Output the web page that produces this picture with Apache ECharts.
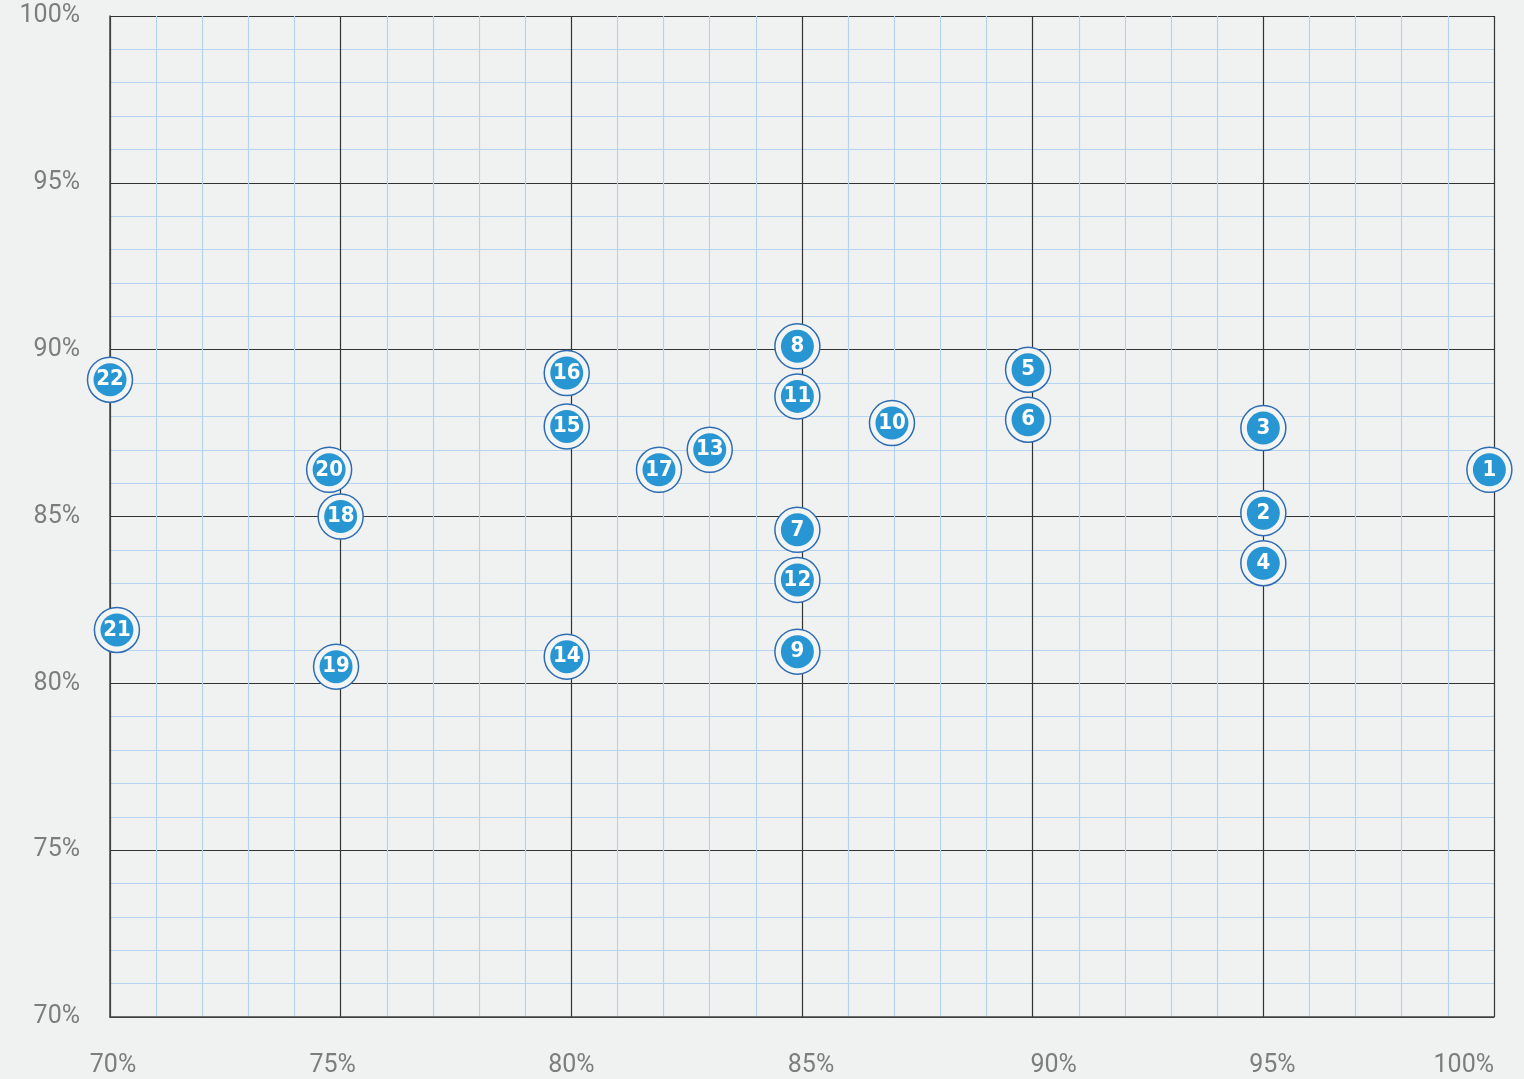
<!DOCTYPE html>
<html>
<head>
<meta charset="utf-8">
<script src="https://cdn.jsdelivr.net/npm/echarts@6/dist/echarts.min.js"></script>
<style>
html,body{margin:0;padding:0;background:#f0f2f1;}
#c{width:1524px;height:1079px;}
</style>
</head>
<body>
<div id="c"></div>
<script>
const ids = ['1','2','3','4','5','6','7','8','9','10','11','12','13','14','15','16','17','18','19','20','21','22'];
const xVals = [99.9,95.0,95.0,95.0,89.9,89.9,84.9,84.9,84.9,86.95,84.9,84.9,83.0,79.9,79.9,79.9,81.9,75.0,74.9,74.75,70.15,70.0];
const yVals = [86.4,85.1,87.65,83.6,89.4,87.9,84.6,90.1,80.95,87.8,88.6,83.1,87.0,80.8,87.7,89.3,86.4,85.0,80.5,86.4,81.6,89.1];
const tickLabels = ['70%','75%','80%','85%','90%','95%','100%'];

const pts = ids.map((id,i)=>({value:[xVals[i],yVals[i]], name:id}));
const FONT = "Roboto, sans-serif";
const MFONT = "'DejaVu Sans Condensed', Roboto, sans-serif";
// per-label horizontal nudges of the x-axis labels (padding left/right)
const xShift = {70:[0,0,0,6],75:[0,16,0,0],80:[0,0,0,0],85:[0,0,0,18],90:[0,0,0,42],95:[0,0,0,18],100:[0,0,0,0]};
const rich = {};
Object.keys(xShift).forEach(k=>{ rich['p'+k] = {padding:xShift[k],color:'#7d7d7d',fontSize:25,fontFamily:FONT}; });

const chart = echarts.init(document.getElementById('c'));
const axisCommon = {
  type:'value', min:70, max:100, interval:5,
  axisLine:{show:true,lineStyle:{color:'#444',width:1.5}},
  axisTick:{show:false},
  splitLine:{show:true,lineStyle:{color:'#333',width:1.2}},
  minorTick:{show:false,splitNumber:5},
  minorSplitLine:{show:true,lineStyle:{color:'#b6d3ef',width:1.2}},
  axisLabel:{formatter:'{value}%',color:'#7d7d7d',fontSize:25,fontFamily:FONT}
};
chart.setOption({
  backgroundColor:'#f0f2f1',
  grid:{left:110,right:30,top:16,bottom:62},
  xAxis:Object.assign({},axisCommon,{axisLabel:{margin:36,alignMaxLabel:'right',
    formatter:function(v){ const i=(v-70)/5; return '{p'+v+'|'+tickLabels[i]+'}'; }, rich:rich}}),
  yAxis:Object.assign({},axisCommon,{axisLabel:Object.assign({},axisCommon.axisLabel,{margin:30,
    formatter:function(v){ return tickLabels[(v-70)/5]; }})}),
  series:[
    {type:'scatter',data:pts,symbolSize:45,z:3,
     itemStyle:{color:'#f3f5f4',borderColor:'#2e6db3',borderWidth:1.5,opacity:1},silent:true},
    {type:'scatter',data:pts,symbolSize:33,z:4,
     itemStyle:{color:'#2996d4',opacity:1},
     label:{show:true,position:'inside',formatter:'{b}',color:'#fff',fontSize:22,fontWeight:'bold',fontFamily:MFONT}}
  ]
});
</script>
</body>
</html>
